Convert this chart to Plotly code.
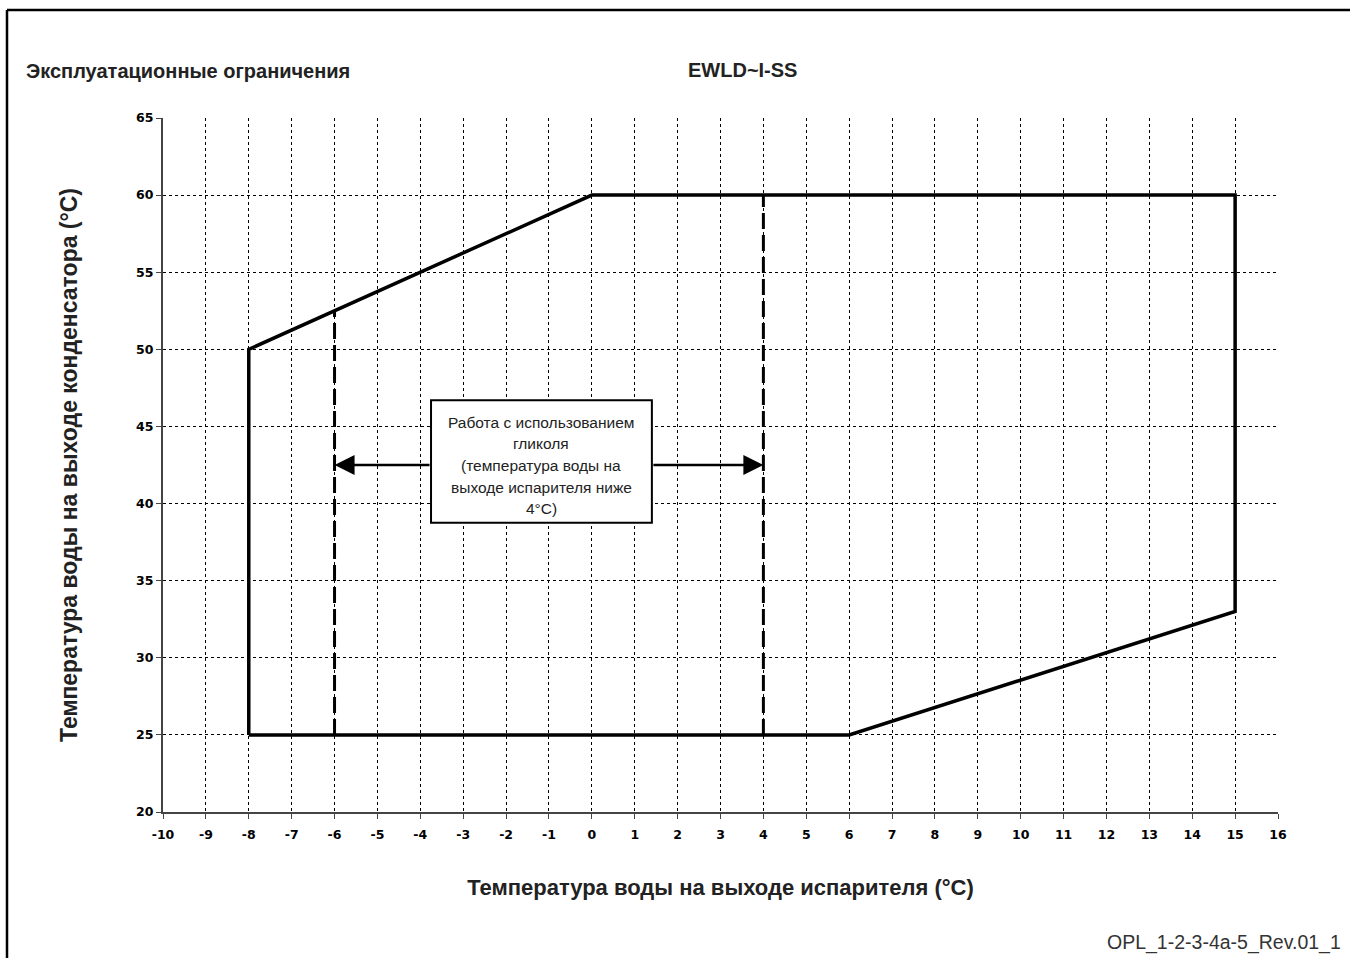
import plotly.graph_objects as go

# Operating envelope (evaporator LWT vs condenser LWT)
envelope_x = [-8, -8, 0, 15, 15, 6, -8]
envelope_y = [25, 50, 60, 60, 33, 25, 25]

# Glycol operation band boundaries
glycol_x = [-6, 4]
glycol_top_y = [52.5, 60]
glycol_bottom_y = [25, 25]

# Axis ticks
x_ticks = list(range(-10, 17))
x_tick_labels = [str(v) for v in x_ticks]
y_ticks = [20, 25, 30, 35, 40, 45, 50, 55, 60, 65]
y_tick_labels = [str(v) for v in y_ticks]

# Note box and arrow positions
note_box_x = [-3.75, 1.4]
note_box_y = [38.75, 46.7]
arrow_y = 42.5
note_lines = [
    "Работа с использованием",
    "гликоля",
    "(температура воды на",
    "выходе испарителя ниже",
    "4°C)",
]

W, H = 1350, 958
L, R, T, B = 163, 72, 118, 146
pw, ph = W - L - R, H - T - B


def px(xp):
    return (xp - L) / pw


def py(yp):
    return (H - B - yp) / ph


fig = go.Figure()

fig.add_trace(go.Scatter(
    x=envelope_x, y=envelope_y, mode="lines",
    line=dict(color="black", width=3.5), hoverinfo="skip", showlegend=False,
))

for gx, gt, gb in zip(glycol_x, glycol_top_y, glycol_bottom_y):
    fig.add_trace(go.Scatter(
        x=[gx, gx], y=[gb, gt], mode="lines",
        line=dict(color="black", width=3, dash="16px,6px"),
        hoverinfo="skip", showlegend=False,
    ))

# Note box
fig.add_shape(type="rect", xref="x", yref="y",
              x0=note_box_x[0], x1=note_box_x[1], y0=note_box_y[0], y1=note_box_y[1],
              line=dict(color="black", width=2), fillcolor="white", layer="above")

# Note text, one line at a time for tighter control of the line spacing
cx = (note_box_x[0] + note_box_x[1]) / 2
line_py = [422, 443, 465, 487, 508]
for txt, yp in zip(note_lines, line_py):
    fig.add_annotation(
        x=cx, y=py(yp), xref="x", yref="paper", showarrow=False,
        text=txt, yanchor="middle",
        font=dict(family="Liberation Sans Narrow, Arial, sans-serif", size=15.5, color="#222"),
    )

# Arrows from the box to each glycol boundary
for head_x, tail_x in [(glycol_x[0], note_box_x[0]), (glycol_x[1], note_box_x[1])]:
    fig.add_annotation(
        x=head_x, y=arrow_y, ax=tail_x, ay=arrow_y,
        xref="x", yref="y", axref="x", ayref="y",
        text="", showarrow=True, arrowhead=2, arrowsize=1.6, arrowwidth=2.5,
        arrowcolor="black", standoff=0,
    )

# Titles and labels
fig.add_annotation(x=px(24), y=py(71), xref="paper", yref="paper", xanchor="left",
                   yanchor="middle", showarrow=False, text="<b>Эксплуатационные ограничения</b>",
                   font=dict(family="Liberation Sans, Arial", size=20, color="#222"))
fig.add_annotation(x=px(742), y=py(70), xref="paper", yref="paper", xanchor="center",
                   yanchor="middle", showarrow=False, text="<b>EWLD~I-SS</b>",
                   font=dict(family="Liberation Sans, Arial", size=20, color="#222"))
fig.add_annotation(x=px(1343), y=py(942), xref="paper", yref="paper", xanchor="right",
                   yanchor="middle", showarrow=False, text="OPL_1-2-3-4a-5_Rev.01_1",
                   font=dict(family="Liberation Sans, Arial", size=19.5, color="#333"))

# Frame around the page
frame_col = "black"
fig.add_shape(type="line", xref="paper", yref="paper",
              x0=px(7), x1=px(1360), y0=py(10), y1=py(10),
              line=dict(color=frame_col, width=2.5))
fig.add_shape(type="line", xref="paper", yref="paper",
              x0=px(7), x1=px(7), y0=py(10), y1=py(970),
              line=dict(color=frame_col, width=2.5))

tick_font = dict(family="DejaVu Sans, Verdana", size=12.5, color="black", weight="bold")

fig.update_xaxes(
    range=[-10, 16], tickvals=x_ticks, ticktext=x_tick_labels,
    showgrid=True, gridcolor="black", gridwidth=1, griddash="3px,3px",
    zeroline=False, showline=True, linecolor="#444", linewidth=2,
    ticks="outside", ticklen=5, tickcolor="#444", tickwidth=1,
    ticklabelstandoff=5,
    tickfont=tick_font,
    title=dict(text="<b>Температура воды на выходе испарителя (°C)</b>",
               font=dict(family="Liberation Sans, Arial", size=22, color="#222"),
               standoff=39),
)
fig.update_yaxes(
    range=[20, 65], tickvals=y_ticks, ticktext=y_tick_labels,
    showgrid=True, gridcolor="black", gridwidth=1, griddash="3px,3px",
    zeroline=False, showline=True, linecolor="#444", linewidth=2,
    ticks="outside", ticklen=5, tickcolor="#444", tickwidth=1,
    tickfont=tick_font,
    title=dict(text="<b>Температура воды на выходе конденсатора (°C)</b>",
               font=dict(family="Liberation Sans, Arial", size=23, color="#222"),
               standoff=52),
)

fig.update_layout(
    width=W, height=H,
    margin=dict(l=L, r=R, t=T, b=B),
    paper_bgcolor="white", plot_bgcolor="white",
    showlegend=False,
)

fig.write_html("out.html")
